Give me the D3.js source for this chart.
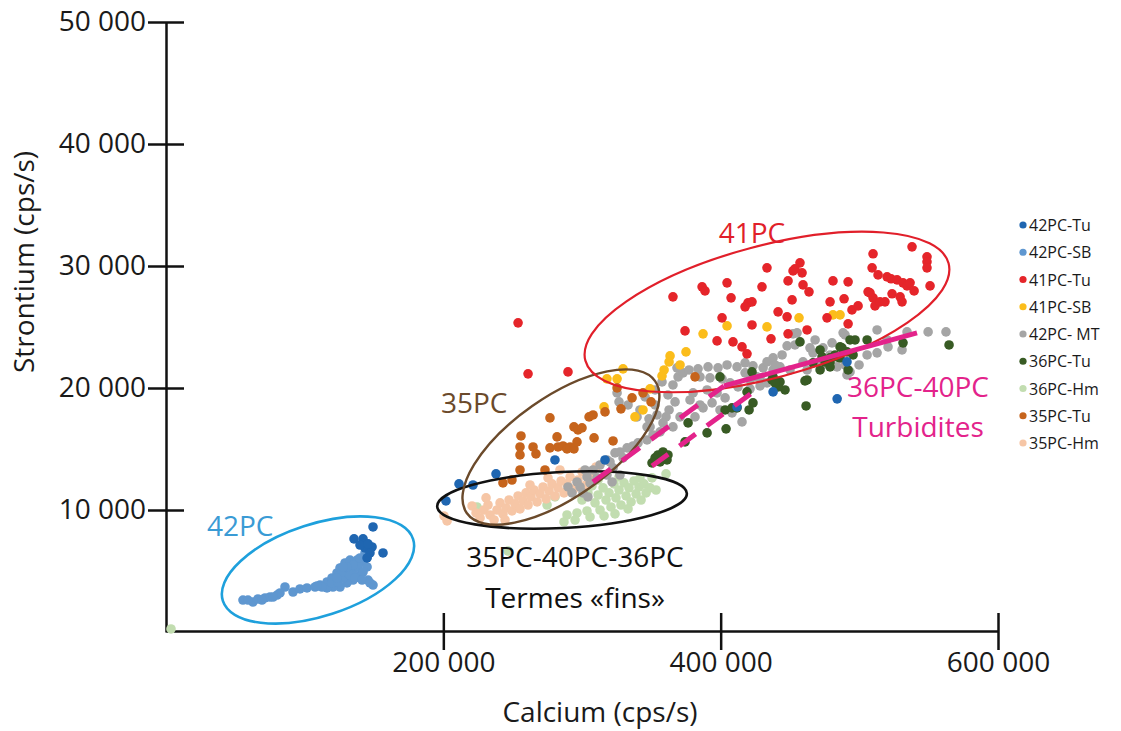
<!DOCTYPE html>
<html><head><meta charset="utf-8">
<script src="https://cdn.jsdelivr.net/npm/d3@7"></script>
<style>
html,body{margin:0;padding:0;background:#fff;}
text{font-family:"Open Sans",sans-serif;}
</style></head>
<body><svg id="c" width="1121" height="731"></svg>
<script>
// ---- tick values / labels ----
const xTicks = [200000, 400000, 600000];
const xTickLabels = ["200 000", "400 000", "600 000"];
const yTicks = [10000, 20000, 30000, 40000, 50000];
const yTickLabels = ["10 000", "20 000", "30 000", "40 000", "50 000"];

// ---- series: [Calcium, Strontium] ----
const tu42 = [[149300,8610],[135600,7630],[142100,7630],[143500,6890],[148600,6970],[156500,6480],[147100,6480],[145000,6070],[139900,7130],[145700,7220],[201900,10740],[211300,12140],[221400,12050],[238000,12960],[280500,14100],[316600,14100],[411800,18450],[437800,19680],[491100,22140],[484000,19110]];
const sb42 = [[55500,2620],[62700,2460],[66300,2710],[71400,2790],[75000,2870],[80100,3030],[85800,3690],[91600,3280],[96600,3530],[101700,3610],[107500,3690],[111100,3850],[116100,4100],[119700,4430],[123300,4840],[125500,5250],[129100,5660],[132700,5900],[137700,5900],[142100,5740],[145000,5330],[145700,4260],[149300,3850],[139900,4670],[134900,4260],[130500,4020],[125500,3690],[120400,3690],[116100,3610],[119700,4020],[124000,4100],[127700,4430],[131300,4840],[134900,5080],[138500,5330],[142100,4920],[145000,6150],[143500,6480],[139900,6070],[134900,5490],[126900,4920],[123300,4430],[112500,3690],[108900,3770],[82200,3200],[77200,2870],[69200,2620],[59100,2620],[132700,4670],[136300,4430],[141400,4260],[147100,4020],[130500,5330],[127700,5330]];
const tu41 = [[253900,25340],[261100,21160],[289900,21320],[365600,27470],[386600,28290],[388700,27960],[404600,28620],[407500,27390],[433400,29850],[429800,28290],[419700,26980],[422600,27060],[417600,26650],[401000,25750],[422600,25170],[374300,24680],[397400,23860],[408900,23780],[415400,23370],[419000,22800],[436300,24030],[441400,26240],[447900,25830],[448600,28780],[452200,29600],[457200,30260],[458700,29440],[451500,27220],[459400,28450],[463700,27880],[448600,24440],[462300,24760],[481000,28780],[491900,28700],[478900,27060],[489000,27310],[476700,25750],[491900,25260],[494700,26400],[499100,26730],[509900,31000],[509200,29850],[513500,29270],[507700,27800],[509900,27390],[511300,26730],[514900,27060],[518500,27060],[520000,29110],[522900,28950],[527200,28860],[531500,28620],[534400,28370],[536600,28620],[539500,27960],[523600,27720],[529400,27470],[530800,27060],[538000,31570],[548800,30750],[548800,30340],[548800,29850],[551000,28370],[453600,29770],[506300,27880]];
const sb41 = [[456500,25750],[481000,25990],[486100,25990],[404600,25090],[433400,25010],[387300,24440],[375000,22960],[363500,22630],[362800,22140],[370700,21890],[359200,21480],[357700,20990],[318000,20750],[325300,20750],[329600,21570],[349100,19930],[315900,18450],[344000,18200],[338200,17630]];
const mt42 = [[289900,11890],[296400,12300],[303600,12710],[308000,13280],[313000,13690],[318000,14100],[323800,14680],[327400,14760],[332500,15090],[336800,15250],[340400,15500],[346900,15740],[351200,16150],[356300,16400],[349100,16810],[360600,17630],[354100,17790],[327400,12870],[318000,12870],[310800,12630],[305800,12220],[322400,13450],[298600,11890],[292800,11400],[300700,11400],[304300,11070],[320200,13940],[329600,14270],[325300,19600],[326700,18860],[345500,19270],[348300,17470],[357700,20500],[365600,20250],[362000,19430],[368500,21650],[369300,20910],[372900,21240],[377200,21480],[383700,21570],[390900,21730],[398100,21650],[404600,21890],[411800,21730],[417600,22060],[423300,21810],[430600,21650],[385100,20910],[392300,20830],[401000,20750],[406800,20420],[412500,20090],[421200,19930],[428400,20170],[433400,20420],[390200,19840],[397400,19600],[403200,19190],[393800,18780],[387300,18370],[381500,17630],[399500,18200],[408200,17960],[415400,17220],[367100,18860],[362800,18200],[370700,17630],[365600,16810],[358400,17140],[339700,17630],[346900,16810],[421200,20660],[426200,20910],[380100,19600],[385100,18610],[455100,24520],[452200,24440],[447900,23450],[444300,22710],[437800,22470],[433400,22140],[437800,21480],[442800,21730],[512800,24760],[520000,23940],[512800,22880],[505600,22710],[499800,21890],[489700,21890],[483900,21730],[534400,24600],[549600,24600],[562500,24600],[530800,23120],[520700,23370],[488300,24520],[480300,23700],[473800,23290],[466600,22880],[459400,22140],[428400,20830],[462300,21480],[450000,21480],[489700,24350],[493300,21320],[491100,21070],[468100,23940],[473100,21890],[478900,22710],[333200,18610],[341800,18200],[352700,18610],[377900,19020],[417600,21240],[439200,21890],[453600,23530],[464400,23290],[352700,19840],[302200,13280],[321700,12300]];
const tu36 = [[350500,13860],[352700,14270],[354800,14510],[358400,14760],[362000,14510],[361300,14100],[356300,13940],[374300,15580],[376500,17140],[390200,16320],[403900,16650],[403200,18200],[408200,18370],[411800,18370],[420500,18200],[423300,18780],[419000,19680],[399500,20910],[422600,21320],[437000,20660],[442800,20500],[446400,19840],[437800,20910],[441400,20090],[457200,23780],[471700,23120],[473100,22550],[478900,22470],[482500,22710],[486100,22470],[491900,21480],[471700,21480],[462300,20660],[461600,18530],[495500,22710],[505600,23940],[531500,23700],[564700,23530],[466600,22060],[478900,22140],[486100,23370],[493300,23940],[491100,22960],[483900,22550],[475300,22140],[487500,23290],[496900,23940],[439200,20420],[460800,20580],[478900,21730]];
const hm36 = [[3600,250],[246700,6640],[224300,10250],[274800,10410],[280500,11070],[289200,9590],[296400,9760],[287000,9020],[295000,9180],[303600,9920],[300000,10820],[304300,11400],[307200,11970],[309400,10580],[311600,11230],[313000,10000],[315200,11810],[317300,10820],[319500,11400],[320900,10250],[323100,12140],[324500,10990],[326700,11640],[328100,10410],[330300,12220],[331800,11150],[333900,11810],[335400,10660],[337500,12380],[339000,11320],[341100,11890],[342600,10820],[344700,12140],[346200,11400],[349100,11810],[350500,12630],[353400,11640],[360600,12960],[315900,9510],[323800,9680],[305800,9430],[333200,10090],[326700,12710],[341800,12630],[311600,12460]];
const tu35 = [[276900,17550],[305100,17630],[308000,17790],[294200,16810],[297100,16560],[300000,16730],[282000,15990],[256000,16070],[255300,15170],[255300,14510],[264700,15170],[266800,14600],[276900,15090],[282700,15170],[286300,15250],[289200,15010],[291400,15170],[294200,15010],[296400,15580],[308700,15910],[322400,15660],[328100,18290],[336100,19190],[344000,19600],[349800,18860],[325300,20010],[255300,13280],[273300,13280],[243000,12220],[249500,12460],[381500,20910],[316600,18040]];
const hm35 = [[200500,9510],[202700,9100],[220700,10330],[223600,9760],[226500,9350],[229300,10000],[232200,10410],[233700,9590],[236600,9180],[238700,10000],[240900,10580],[243000,9680],[245200,10170],[247400,10820],[249500,9920],[251700,10500],[253900,11150],[255300,10090],[257500,10740],[259600,11400],[261100,10410],[263200,11070],[265400,11640],[267600,10660],[269700,11320],[271900,11890],[274100,10910],[276200,11560],[278400,12140],[280500,11150],[282700,11810],[284900,12380],[287000,11400],[289200,12140],[291400,12710],[294200,11730],[297100,12460],[300000,13120],[302900,12050],[305800,12790],[310100,13530],[244500,9180],[230800,10990],[284100,13280],[275500,12630],[262500,12050]];

// ---- annotation lines (36PC-40PC turbidites) ----
const turbDashUpper = [[307900,12300],[402400,20170]];
const turbSolidUpper = [[402400,20170],[541600,24520]];
const turbDashLower = [[350500,13610],[422600,19600]];

const seriesNames = ["42PC-Tu","42PC-SB","41PC-Tu","41PC-SB","42PC- MT","36PC-Tu","36PC-Hm","35PC-Tu","35PC-Hm"];
const seriesData = [tu42, sb42, tu41, sb41, mt42, tu36, hm36, tu35, hm35];
const seriesColors = ["#1f66b1","#5f97d0","#e5252a","#fbbd1b","#a5a5a5","#385b24","#c2ddb0","#c6641c","#f6c6a6"];
const drawOrder = [6, 8, 1, 4, 5, 3, 7, 2, 0];

const svg = d3.select("#c");
const x = d3.scaleLinear().domain([0, 600000]).range([166, 998]);
const y = d3.scaleLinear().domain([0, 50000]).range([632, 22]);

// axes
const gx = svg.append("g").attr("transform", "translate(0,631)")
  .call(d3.axisBottom(x).tickValues(xTicks).tickFormat((d, i) => xTickLabels[i])
    .tickSizeOuter(0).tickSizeInner(19).tickPadding(2));
gx.selectAll(".tick line").attr("y1", -18).attr("y2", 19);
const gy = svg.append("g").attr("transform", "translate(166,0)")
  .call(d3.axisLeft(y).tickValues(yTicks).tickFormat((d, i) => yTickLabels[i])
    .tickSizeOuter(0).tickSizeInner(18).tickPadding(2));
gy.selectAll(".tick line").attr("x1", 18).attr("x2", -18);
[gx, gy].forEach(g => {
  g.selectAll("path.domain, .tick line").attr("stroke", "#111").attr("stroke-width", 2.5);
  g.selectAll(".tick text").attr("font-family", "Open Sans").attr("font-size", 28).attr("fill", "#1a1a1a");
});

svg.append("text").attr("x", 600).attr("y", 722).attr("text-anchor", "middle")
  .attr("font-size", 28).attr("fill", "#1a1a1a").text("Calcium (cps/s)");
svg.append("text").attr("transform", "translate(34,262) rotate(-90)").attr("text-anchor", "middle")
  .attr("font-size", 28).attr("fill", "#1a1a1a").text("Strontium (cps/s)");

// points
drawOrder.forEach(i => {
  svg.append("g").selectAll("circle").data(seriesData[i]).join("circle")
    .attr("cx", d => x(d[0])).attr("cy", d => y(d[1])).attr("r", 4.8)
    .attr("fill", seriesColors[i]);
});

// ellipses (annotations)
const ellipses = [
  {cx: 109600, cy: 5080, rx: 100, ry: 46, rot: -18, color: "#1ea0dc", w: 2.6},
  {cx: 285600, cy: 10820, rx: 125, ry: 28, rot: -3, color: "#111111", w: 2.6},
  {cx: 284800, cy: 15160, rx: 115, ry: 50, rot: -35, color: "#6b4a2b", w: 2.4},
  {cx: 433400, cy: 26230, rx: 188, ry: 66, rot: -15, color: "#e11f2a", w: 2.2}
];
svg.append("g").selectAll("ellipse").data(ellipses).join("ellipse")
  .attr("transform", d => `translate(${x(d.cx)},${y(d.cy)}) rotate(${d.rot})`)
  .attr("rx", d => d.rx).attr("ry", d => d.ry)
  .attr("fill", "none").attr("stroke", d => d.color).attr("stroke-width", d => d.w);

// turbidite lines
const line = d3.line().x(d => x(d[0])).y(d => y(d[1]));
const mag = "#e3238b";
svg.append("path").attr("d", line(turbDashUpper)).attr("stroke", mag).attr("stroke-width", 5)
  .attr("fill", "none").attr("stroke-dasharray", "22,14");
svg.append("path").attr("d", line(turbSolidUpper)).attr("stroke", mag).attr("stroke-width", 5).attr("fill", "none");
svg.append("path").attr("d", line(turbDashLower)).attr("stroke", mag).attr("stroke-width", 5)
  .attr("fill", "none").attr("stroke-dasharray", "20,14");

// annotation labels
const labels = [
  {t: "42PC", x: 207, y: 536, c: "#3a9bd5", a: "start"},
  {t: "35PC", x: 441, y: 413, c: "#6b4a2b", a: "start"},
  {t: "41PC", x: 752, y: 243, c: "#e11f2a", a: "middle"},
  {t: "36PC-40PC", x: 918, y: 397, c: mag, a: "middle"},
  {t: "Turbidites", x: 918, y: 437, c: mag, a: "middle"},
  {t: "35PC-40PC-36PC", x: 575, y: 567, c: "#111", a: "middle"},
  {t: "Termes «fins»", x: 575, y: 608, c: "#111", a: "middle"}
];
svg.append("g").selectAll("text").data(labels).join("text")
  .attr("x", d => d.x).attr("y", d => d.y).attr("text-anchor", d => d.a)
  .attr("font-size", 28).attr("fill", d => d.c).text(d => d.t);

// legend
const lg = svg.append("g").selectAll("g").data(seriesNames).join("g")
  .attr("transform", (d, i) => `translate(1023,${225 + i * 27.25})`);
lg.append("circle").attr("r", 3.6).attr("fill", (d, i) => seriesColors[i]);
lg.append("text").attr("x", 6).attr("y", 6).attr("font-size", 16).attr("fill", "#1a1a1a").text(d => d);
</script></body></html>
